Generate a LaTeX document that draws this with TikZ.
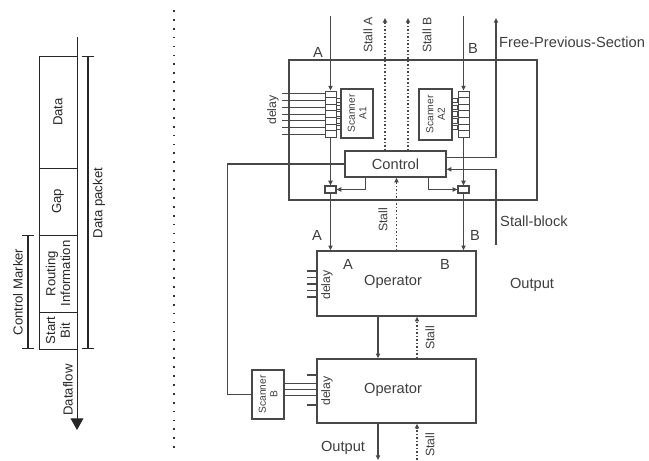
\documentclass[tikz,border=0pt]{standalone}
\usepackage{fontspec}
\setmainfont{Liberation Sans}
\usetikzlibrary{arrows.meta,positioning,calc,fit}
\definecolor{lineclr}{RGB}{72,72,72}
\definecolor{textclr}{RGB}{62,62,62}
\tikzset{
  boxln/.style={draw=lineclr, line width=1.2pt, inner sep=0pt},
  thinbox/.style={draw=lineclr, line width=0.8pt, inner sep=0pt},
  sigln/.style={draw=lineclr, line width=1.1pt},
  sigarr/.style={sigln, -{Triangle[length=4pt,width=3.6pt]}},
  stallarr/.style={draw=lineclr, line width=1.1pt, dash pattern=on 1.3pt off 1.7pt,
    -{Triangle[length=4pt,width=3.6pt]}},
  lbl/.style={text=textclr, inner sep=0pt, font=\fontsize{12.5}{14}\selectfont},
  vlbl/.style={text=textclr, inner sep=0pt, rotate=90, font=\fontsize{10.5}{12}\selectfont},
  scanlbl/.style={text=textclr, inner sep=0pt, rotate=90, align=center,
    font=\fontsize{8.7}{9.8}\selectfont},
  packbox/.style={draw=black!85, line width=0.7pt, inner sep=0pt},
  packlbl/.style={rotate=90, inner sep=0pt, align=center, text=black!85,
    font=\fontsize{11.2}{12.6}\selectfont},
  bracket/.style={draw=black!85, line width=1.1pt, {Bar[width=9.5pt]}-{Bar[width=9.5pt]}},
}
\newcommand{\regcells}[1]{%
  \foreach \k in {1,...,6}
    \draw[lineclr, line width=0.6pt] ($(#1.north west)!\k/7!(#1.south west)$)
      -- ($(#1.north east)!\k/7!(#1.south east)$);
}

\begin{document}
\begin{tikzpicture}[x=0.03cm, y=-0.03cm]
    \useasboundingbox (0,0) rectangle (649,461);
    % Data packet
    \node[packbox, fit={(39,56) (77,168)}] (data) {};
    \node[packbox, fit={(39,168) (77,235)}] (gap) {};
    \node[packbox, fit={(39,235) (77,312)}] (rout) {};
    \node[packbox, fit={(39,312) (77,349)}] (start) {};
    \node[packlbl] (datat) at (data) {Data};
    \node[packlbl] (gapt) at (gap) {Gap};
    \node[packlbl] (routt) at (rout) {Routing\\Information};
    \node[packlbl] (startt) at (start) {Start\\Bit};
    \coordinate (flowtop) at (77,37);
    \coordinate (flowend) at (77,430);
    \draw[black!85, line width=0.8pt, -{Triangle[length=10pt,width=11pt]}] (flowtop) -- (flowend);
    \node[packlbl] (flowlbl) at (68,390) {Dataflow};
    % Brackets
    \coordinate (pkt1) at (88,56);
    \coordinate (pkt2) at (88,349);
    \draw[bracket] (pkt1) -- (pkt2);
    \node[packlbl] (pktlbl) at (99,203) {Data packet};
    \coordinate (cm1) at (28,235);
    \coordinate (cm2) at (28,349);
    \draw[bracket] (cm1) -- (cm2);
    \node[packlbl] (cmlbl) at (18,292) {Control Marker};
    % Divider
    \draw[black!80, line width=1.5pt, dash pattern=on 1.5pt off 6.1pt] (174,10) -- (174,455);

    % Section block
    \node[boxln, fit={(289,60) (537,200)}] (sect) {};
    \node[boxln, fill=white, fit={(345,151) (446,177)}] (ctrl) {};
    \node[lbl] (ctrlt) at (ctrl) {Control};
    \node[thinbox, fit={(325,91) (336,137)}] (regA) {};
    \node[thinbox, fit={(458,91) (469,137)}] (regB) {};
    \regcells{regA}
    \regcells{regB}
    \node[boxln, fit={(341,89) (373,138)}] (scA1) {};
    \node[boxln, fit={(419,89) (452,140)}] (scA2) {};
    \node[scanlbl] (scA1t) at (scA1) {Scanner\\A1};
    \node[scanlbl] (scA2t) at (scA2) {Scanner\\A2};
    \node[thinbox, line width=1pt, fit={(325,186) (336,193)}] (smA) {};
    \node[thinbox, line width=1pt, fit={(458,186) (469,193)}] (smB) {};
    % Delay taps and scanner stubs
    \foreach \k in {0,...,6}
      \draw[sigln, line width=0.8pt] ($(regA.north west)!{(\k+0.5)/7}!(regA.south west)$) -- ++(-43,0);
    \foreach \k in {1,...,5}{
      \draw[lineclr, line width=0.6pt] ($(regA.north east)!{(\k+0.5)/7}!(regA.south east)$)
        ++(0,-2.2) rectangle ++(5,4.4);
      \draw[lineclr, line width=0.6pt] ($(regB.north west)!{(\k+0.5)/7}!(regB.south west)$)
        ++(0,-2.2) rectangle ++(-6,4.4);
    }
    \node[vlbl] (dlyA) at (273,110) {delay};
    % Inputs A and B
    \coordinate (inA) at (330.5,16);
    \coordinate (inB) at (463.5,16);
    \draw[sigarr] (inA) -- (regA.north);
    \draw[sigarr] (inB) -- (regB.north);
    \draw[sigarr] (regA.south) -- (smA.north);
    \draw[sigarr] (regB.south) -- (smB.north);
    \node[lbl] (inAt) at (318,52) {A};
    \node[lbl] (inBt) at (473,48) {B};
    % Stall outputs
    \coordinate (stA) at (385,18);
    \coordinate (stB) at (408,18);
    \draw[stallarr] (stA |- ctrl.north) -- (stA);
    \draw[stallarr] (stB |- ctrl.north) -- (stB);
    \node[vlbl] (stAt) at (368,35) {Stall A};
    \node[vlbl] (stBt) at (427,35) {Stall B};
    % Free-Previous-Section and Stall-block
    \coordinate (fps) at (496,18);
    \coordinate (sbk) at (496,245);
    \draw[sigarr] ($(ctrl.north east)+(0,7)$) -| (fps);
    \draw[sigarr] (sbk) |- ($(ctrl.north east)+(0,19)$);
    \node[lbl, anchor=west] (fpst) at (499,42) {Free-Previous-Section};
    \node[lbl, anchor=west] (sbkt) at (500,221) {Stall-block};
    % Control to switches
    \draw[sigarr] ($(ctrl.south west)+(21,0)$) |- (smA.east);
    \draw[sigarr] ($(ctrl.south east)+(-18,0)$) |- (smB.west);

    % Operators
    \node[boxln, fit={(317,251) (476,316)}] (op1) {};
    \node[boxln, fit={(317,359) (476,423)}] (op2) {};
    \node[lbl] (op1t) at (393,282) {Operator};
    \node[lbl] (op2t) at (393,390) {Operator};
    \node[lbl] (op1a) at (348,264) {A};
    \node[lbl] (op1b) at (445,264) {B};
    \node[vlbl] (dly1) at (327,285) {delay};
    \node[vlbl] (dly2) at (327,391) {delay};
    \foreach \yy in {271,277.5,284,290.5,297}
      \draw[sigln, line width=0.9pt] (307,\yy) -- +(10,0);
    \foreach \yy in {375,405}
      \draw[sigln, line width=0.9pt] (307,\yy) -- +(10,0);
    \draw[sigarr] (smA.south) -- (smA.south |- op1.north);
    \draw[sigarr] (smB.south) -- (smB.south |- op1.north);
    \node[lbl] (opAt) at (317,235) {A};
    \node[lbl] (opBt) at (475,235) {B};
    \draw[stallarr] (op1.north) -- (op1.north |- ctrl.south);
    \node[vlbl] (stmid) at (383,220) {Stall};
    \node[lbl] (outR) at (532,285) {Output};
    % Between operators
    \coordinate (outend) at (378,460);
    \coordinate (stbot) at (417,460);
    \draw[sigarr] (op1.south -| outend) -- (op2.north -| outend);
    \draw[stallarr] (op2.north -| stbot) -- (op1.south -| stbot);
    \node[vlbl] (st12) at (430,338) {Stall};
    \draw[sigarr] (op2.south -| outend) -- (outend);
    \draw[stallarr] (stbot) -- (stbot |- op2.south);
    \node[lbl] (outB) at (343,448) {Output};
    \node[vlbl] (stbt) at (430,445) {Stall};
    % Scanner B
    \node[boxln, fit={(252,370) (284,419)}] (scB) {};
    \node[scanlbl] (scBt) at (scB) {Scanner\\B};
    \foreach \dy in {-11,-5,1}
      \draw[sigln, line width=0.9pt] ($(scB.east)+(0,\dy)$) -- ($(scB.east -| op2.west)+(0,\dy)$);
    \draw[sigln] (ctrl.west) -| ($(scB.west)+(-24,0)$) -- (scB.west);
  \end{tikzpicture}
\end{document}
